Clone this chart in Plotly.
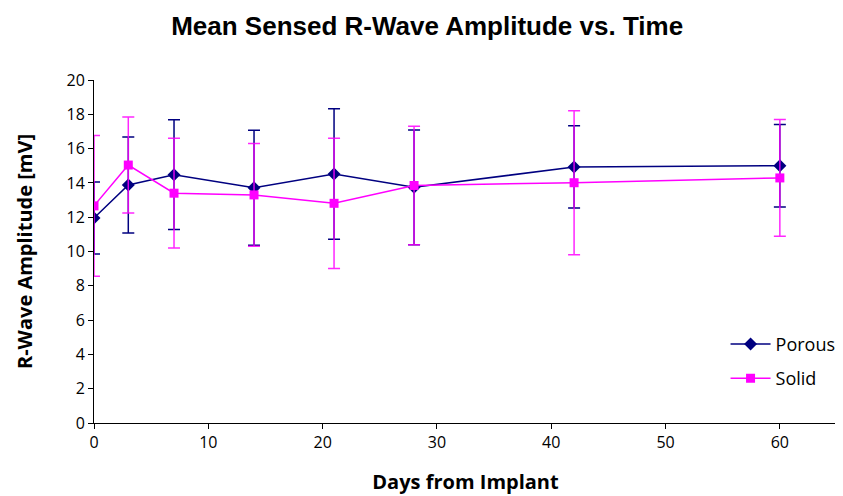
import plotly.graph_objects as go

days = [0, 3, 7, 14, 21, 28, 42, 60]
porous_mean = [11.95, 13.88, 14.48, 13.72, 14.52, 13.74, 14.93, 15.0]
porous_err = [2.1, 2.8, 3.2, 3.35, 3.8, 3.35, 2.4, 2.4]
solid_mean = [12.66, 15.04, 13.4, 13.3, 12.81, 13.85, 14.01, 14.29]
solid_err = [4.1, 2.8, 3.2, 3.0, 3.8, 3.45, 4.2, 3.4]

fig = go.Figure()
fig.add_trace(go.Scatter(
    x=days, y=porous_mean, name="Porous", mode="lines+markers", legendgroup="p",
    line=dict(color="#000080", width=1.5),
    marker=dict(symbol="diamond", size=10, color="#000080"),
    error_y=dict(type="data", array=porous_err, visible=True,
                 color="#000080", thickness=1.5, width=6),
))
fig.add_trace(go.Scatter(
    x=days, y=solid_mean, name="Solid", mode="lines+markers", legendgroup="s",
    line=dict(color="#FF00FF", width=1.5),
    marker=dict(symbol="square", size=9, color="#FF00FF"),
    error_y=dict(type="data", array=solid_err, visible=True,
                 color="rgba(255,0,255,0.85)", thickness=1.5, width=6),
))

fam = "Open Sans, Lato, sans-serif"
tickfont = dict(family=fam, size=16, color="black")
fig.update_layout(
    width=835, height=488,
    margin=dict(l=86, r=6, t=72, b=73, autoexpand=False),
    paper_bgcolor="white", plot_bgcolor="white",
    title=dict(text="<b>Mean Sensed R-Wave Amplitude vs. Time</b>",
               font=dict(family="Liberation Sans", size=26, color="black"),
               x=0.502, xanchor="center", y=0.963, yanchor="middle"),
    xaxis=dict(range=[0, 65], tickvals=[0, 10, 20, 30, 40, 50, 60],
               showline=True, linecolor="black", linewidth=1,
               ticks="outside", ticklen=5, tickcolor="black", automargin=False,
               showgrid=False, zeroline=False, tickfont=tickfont,
               title=dict(text="<b>Days from Implant</b>",
                          font=dict(family=fam, size=20, color="black"),
                          standoff=22)),
    yaxis=dict(range=[0, 20], dtick=2,
               showline=True, linecolor="black", linewidth=1,
               ticks="outside", ticklen=5, tickcolor="black", automargin=False,
               showgrid=False, zeroline=False, tickfont=tickfont,
               title=dict(text="<b>R-Wave Amplitude [mV]</b>",
                          font=dict(family=fam, size=20, color="black"),
                          standoff=28)),
    legend=dict(x=0.85, xanchor="left", y=0.18, yanchor="middle",
                font=dict(family=fam, size=18, color="black"),
                bgcolor="rgba(0,0,0,0)", tracegroupgap=8, itemwidth=40,
                traceorder="grouped"),
    showlegend=True,
)
fig.write_html("out.html")
